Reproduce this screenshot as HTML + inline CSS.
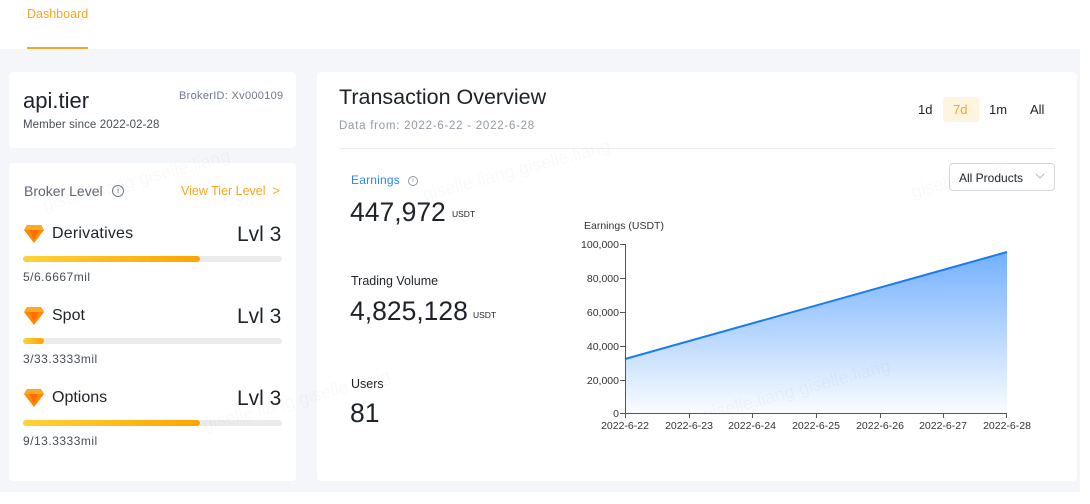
<!DOCTYPE html>
<html><head><meta charset="utf-8"><style>
*{margin:0;padding:0;box-sizing:border-box}
body{width:1090px;height:504px;background:#fff;font-family:"Liberation Sans","DejaVu Sans",sans-serif;position:relative;overflow:hidden;color:#1e2329}
.a{position:absolute;white-space:nowrap}
.bg{position:absolute;left:0;top:49px;width:1080px;height:443px;background:#f4f6f9}
.card{position:absolute;background:#fff;border-radius:4px}
.bar{position:absolute;left:23px;width:259px;height:6px;border-radius:3px;background:#ebebeb}
.fill{position:absolute;left:0;top:0;height:6px;border-radius:3px;background:linear-gradient(90deg,#ffd23a,#ffa400)}
.wm{position:absolute;color:rgba(0,0,0,0.025);font-size:18px;transform:rotate(-15deg);white-space:nowrap}
</style></head><body>
<div class="a" style="left:27px;top:7px;font-size:12.5px;color:#f5a623">Dashboard</div>
<div class="a" style="left:27px;top:47px;width:61px;height:2px;background:#f5a623"></div>
<div class="bg"></div>

<div class="card" style="left:9px;top:72px;width:287px;height:76px"></div>
<div class="a" style="left:23px;top:88px;font-size:22px;color:#1e2329">api.tier</div>
<div class="a" style="left:23px;top:119px;font-size:11.5px;color:#474d57;letter-spacing:0.1px">Member since 2022-02-28</div>
<div class="a" style="left:179px;top:90px;font-size:11px;color:#707a8a;letter-spacing:0.3px">BrokerID: Xv000109</div>

<div class="card" style="left:9px;top:163px;width:287px;height:318px"></div>
<div class="a" style="left:24px;top:183px;font-size:14px;color:#5e6673">Broker Level</div>
<div class="a" style="left:112px;top:185px;width:12px;height:12px;border:1px solid #707a8a;border-radius:50%;font-size:8px;line-height:10px;text-align:center;color:#707a8a">i</div>
<div class="a" style="left:181px;top:184px;font-size:12.5px;color:#f5a623">View Tier Level &nbsp;&gt;</div>

<svg class="a" style="left:23px;top:224px" width="22" height="20" viewBox="0 0 22 20"><polygon points="4,1 18,1 21,6 11,19 1,6" fill="#ff8a00"/><polygon points="4,1 18,1 21,6 1,6" fill="#ffa726"/><polygon points="7,6 15,6 11,16" fill="#ff6d00"/></svg>
<div class="a" style="left:52px;top:225px;font-size:16px;color:#1e2329;letter-spacing:0.2px">Derivatives</div>
<div class="a" style="left:237px;top:223px;font-size:21px;color:#1e2329">Lvl 3</div>
<div class="bar" style="top:256px"><div class="fill" style="width:177px"></div></div>
<div class="a" style="left:23px;top:270px;font-size:12px;color:#474d57;letter-spacing:0.5px">5/6.6667mil</div>

<svg class="a" style="left:23px;top:306px" width="22" height="20" viewBox="0 0 22 20"><polygon points="4,1 18,1 21,6 11,19 1,6" fill="#ff8a00"/><polygon points="4,1 18,1 21,6 1,6" fill="#ffa726"/><polygon points="7,6 15,6 11,16" fill="#ff6d00"/></svg>
<div class="a" style="left:52px;top:307px;font-size:16px;color:#1e2329">Spot</div>
<div class="a" style="left:237px;top:305px;font-size:21px;color:#1e2329">Lvl 3</div>
<div class="bar" style="top:338px"><div class="fill" style="width:21px"></div></div>
<div class="a" style="left:23px;top:352px;font-size:12px;color:#474d57;letter-spacing:0.5px">3/33.3333mil</div>

<svg class="a" style="left:23px;top:388px" width="22" height="20" viewBox="0 0 22 20"><polygon points="4,1 18,1 21,6 11,19 1,6" fill="#ff8a00"/><polygon points="4,1 18,1 21,6 1,6" fill="#ffa726"/><polygon points="7,6 15,6 11,16" fill="#ff6d00"/></svg>
<div class="a" style="left:52px;top:389px;font-size:16px;color:#1e2329">Options</div>
<div class="a" style="left:237px;top:387px;font-size:21px;color:#1e2329">Lvl 3</div>
<div class="bar" style="top:420px"><div class="fill" style="width:177px"></div></div>
<div class="a" style="left:23px;top:434px;font-size:12px;color:#474d57;letter-spacing:0.5px">9/13.3333mil</div>

<div class="card" style="left:317px;top:72px;width:760px;height:409px"></div>
<div class="a" style="left:339px;top:85px;font-size:21.5px;color:#1e2329">Transaction Overview</div>
<div class="a" style="left:339px;top:120px;font-size:11.5px;color:#929aa5;letter-spacing:0.75px">Data from: 2022-6-22 - 2022-6-28</div>
<div class="a" style="left:339px;top:148px;width:716px;height:1px;background:#eaecef"></div>
<div class="a" style="left:918px;top:102px;font-size:13px;color:#1e2329">1d</div>
<div class="a" style="left:943px;top:97px;width:36px;height:25px;background:#fff4e0;border-radius:3px"></div>
<div class="a" style="left:953px;top:102px;font-size:13px;color:#f5a623">7d</div>
<div class="a" style="left:989px;top:102px;font-size:13px;color:#1e2329">1m</div>
<div class="a" style="left:1030px;top:102px;font-size:13px;color:#1e2329">All</div>
<div class="a" style="left:949px;top:163px;width:106px;height:28px;border:1px solid #d5d8dc;border-radius:4px"></div>
<div class="a" style="left:959px;top:171px;font-size:12px;color:#1e2329">All Products</div>
<svg class="a" style="left:1035px;top:173px" width="10" height="7"><polyline points="1,1 5,5 9,1" fill="none" stroke="#b7bdc6" stroke-width="1"/></svg>

<div class="a" style="left:351px;top:173px;font-size:12px;color:#2f86f0;letter-spacing:0.2px">Earnings</div>
<div class="a" style="left:408px;top:176px;width:10px;height:10px;border:1px solid #929aa5;border-radius:50%;font-size:7px;line-height:8px;text-align:center;color:#929aa5">i</div>
<div class="a" style="left:350px;top:197px;font-size:26.5px;color:#1e2329">447,972</div>
<div class="a" style="left:452px;top:209px;font-size:8.5px;color:#1e2329">USDT</div>
<div class="a" style="left:351px;top:274px;font-size:12.5px;color:#1e2329">Trading Volume</div>
<div class="a" style="left:350px;top:296px;font-size:26.5px;color:#1e2329">4,825,128</div>
<div class="a" style="left:473px;top:310px;font-size:8.5px;color:#1e2329">USDT</div>
<div class="a" style="left:351px;top:377px;font-size:12.5px;color:#1e2329">Users</div>
<div class="a" style="left:350px;top:398px;font-size:26.5px;color:#1e2329">81</div>

<svg class="a" style="left:0;top:0" width="1090" height="504">
<defs><linearGradient id="g" x1="0" y1="0" x2="0" y2="1"><stop offset="0" stop-color="#5aa2ff" stop-opacity="0.85"/><stop offset="1" stop-color="#5aa2ff" stop-opacity="0.03"/></linearGradient></defs>
<g font-family="Liberation Sans, Arial, sans-serif" font-size="10.5" fill="#333">
<text x="584" y="229">Earnings (USDT)</text>
<g text-anchor="end">
<text x="619" y="248">100,000</text>
<text x="619" y="282">80,000</text>
<text x="619" y="316">60,000</text>
<text x="619" y="350">40,000</text>
<text x="619" y="384">20,000</text>
<text x="619" y="417">0</text>
</g>
<g text-anchor="middle">
<text x="625" y="429">2022-6-22</text>
<text x="689" y="429">2022-6-23</text>
<text x="752" y="429">2022-6-24</text>
<text x="816" y="429">2022-6-25</text>
<text x="880" y="429">2022-6-26</text>
<text x="943" y="429">2022-6-27</text>
<text x="1007" y="429">2022-6-28</text>
</g>
</g>
<polygon points="625,359 1007,252 1007,413.5 625,413.5" fill="url(#g)"/>
<polyline points="625,359 1007,252" fill="none" stroke="#1a7cf0" stroke-width="2"/>
<g stroke="#555" stroke-width="1">
<line x1="625.5" y1="244" x2="625.5" y2="414"/>
<line x1="625" y1="413.5" x2="1007" y2="413.5"/>
<line x1="620" y1="244.5" x2="625" y2="244.5"/>
<line x1="620" y1="278.5" x2="625" y2="278.5"/>
<line x1="620" y1="312.5" x2="625" y2="312.5"/>
<line x1="620" y1="346.5" x2="625" y2="346.5"/>
<line x1="620" y1="380.5" x2="625" y2="380.5"/>
<line x1="620" y1="413.5" x2="625" y2="413.5"/>
<line x1="625.5" y1="413" x2="625.5" y2="418"/>
<line x1="689.5" y1="413" x2="689.5" y2="418"/>
<line x1="752.5" y1="413" x2="752.5" y2="418"/>
<line x1="816.5" y1="413" x2="816.5" y2="418"/>
<line x1="880.5" y1="413" x2="880.5" y2="418"/>
<line x1="943.5" y1="413" x2="943.5" y2="418"/>
<line x1="1006.5" y1="413" x2="1006.5" y2="418"/>
</g>
</svg>

<div class="wm" style="left:420px;top:160px">giselle.liang giselle.liang</div>
<div class="wm" style="left:40px;top:170px">giselle.liang giselle.liang</div>
<div class="wm" style="left:200px;top:390px">giselle.liang giselle.liang</div>
<div class="wm" style="left:700px;top:380px">giselle.liang giselle.liang</div>
<div class="wm" style="left:910px;top:170px">giselle.liang</div>
</body></html>
